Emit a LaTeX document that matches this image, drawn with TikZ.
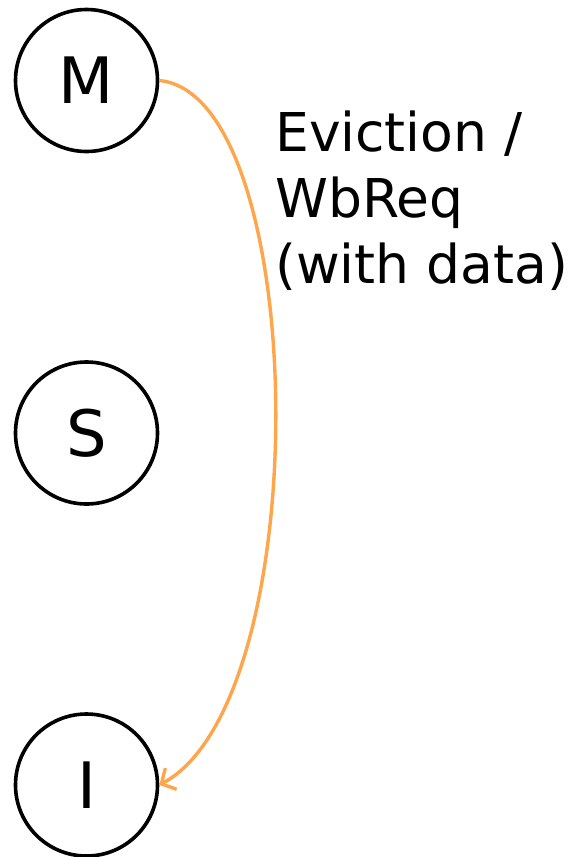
\documentclass[tikz,border=0pt]{standalone}
\usepackage{fontspec}
\setmainfont{DejaVu Sans}
\usetikzlibrary{arrows.meta}
\definecolor{arc}{HTML}{FFA54C}
\begin{document}
\begin{tikzpicture}[x=1pt,y=-1pt,
  state/.style={circle,draw=black,line width=3.6pt,minimum size=142pt,inner sep=0pt,font=\fontsize{64}{72}\selectfont},
  trans/.style={draw=arc,line width=3.4pt,-{Straight Barb[length=11pt,width=24pt,line width=3.4pt]}},
  lbl/.style={align=left,anchor=north west,inner sep=0pt,font=\fontsize{53.5}{66}\selectfont}]
\useasboundingbox (0,0) rectangle (574,857);
\node[state] (M) at (86.5,80.5) {M};
\node[state] (S) at (86.5,433) {S};
\node[state] (I) at (86.5,785) {I};
\draw[trans] (M.east) .. controls (310,95) and (318,700) .. (I.east);
\node[lbl] (L) at (275,111) {Eviction /\\WbReq\\(with data)};
\end{tikzpicture}
\end{document}
